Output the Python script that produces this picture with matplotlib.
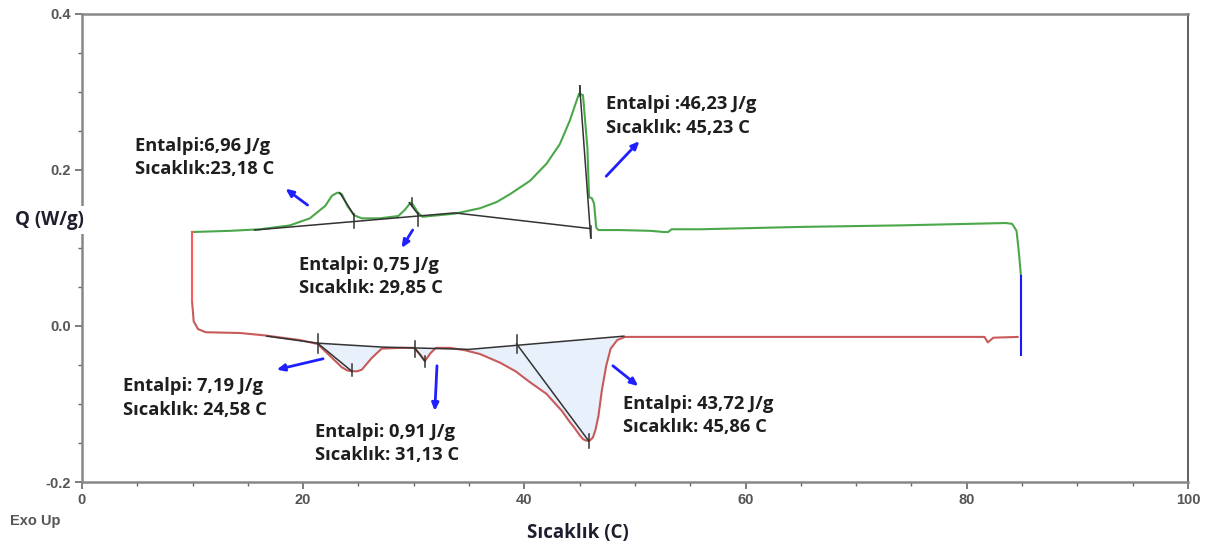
import numpy as np
import matplotlib
matplotlib.use("Agg")
import matplotlib.pyplot as plt

# heating curve (green, exo up)
heat_x = [9.95, 13.4, 16.1, 18.8, 20.6, 22.0, 22.6, 23.1, 23.5, 24.0, 24.6, 25.3, 26.9,
          28.6, 29.2, 29.7, 29.9, 30.4, 30.8, 31.5, 33.7, 36.0, 37.5, 38.7, 40.5, 42.0,
          43.2, 44.1, 44.8, 44.95, 45.3, 45.7, 45.85, 46.1, 46.3, 46.5, 46.7,
          48.6, 51.4, 52.6, 53.0, 53.3, 55.9, 64.9, 74.0, 83.5, 84.1, 84.5, 84.7, 84.9]
heat_y = [0.1205, 0.122, 0.124, 0.129, 0.138, 0.154, 0.167, 0.171, 0.169, 0.154, 0.142, 0.138, 0.138,
          0.141, 0.149, 0.158, 0.156, 0.145, 0.140, 0.141, 0.144, 0.151, 0.159, 0.169, 0.186, 0.208,
          0.233, 0.263, 0.292, 0.298, 0.296, 0.228, 0.165, 0.164, 0.157, 0.126, 0.123,
          0.123, 0.122, 0.1205, 0.1205, 0.124, 0.124, 0.127, 0.129, 0.132, 0.131, 0.122, 0.096, 0.064]

# cooling curve (red)
cool_x = [9.95, 9.95, 10.1, 10.5, 11.2, 14.3, 16.5, 19.7, 21.3, 22.4, 23.5, 24.0, 24.4, 24.9, 25.3,
          26.2, 27.1, 28.8, 30.0, 30.6, 31.0, 31.5, 32.0, 33.3, 34.6, 36.0, 37.8, 39.2, 40.5,
          42.0, 43.4, 44.0, 44.6, 45.0, 45.3, 45.6, 45.9, 46.2, 46.45, 46.7, 47.0, 47.4, 47.8,
          48.4, 49.1, 55.9, 69.4, 81.6, 81.9, 82.4, 84.6]
cool_y = [0.1205, 0.032, 0.006, -0.004, -0.008, -0.009, -0.012, -0.018, -0.023, -0.038, -0.053, -0.057, -0.058, -0.058, -0.056,
          -0.041, -0.029, -0.028, -0.028, -0.037, -0.045, -0.035, -0.028, -0.028, -0.031, -0.036, -0.047, -0.058, -0.072,
          -0.087, -0.109, -0.121, -0.132, -0.140, -0.145, -0.147, -0.147, -0.143, -0.132, -0.115, -0.083, -0.051, -0.029,
          -0.018, -0.014, -0.014, -0.014, -0.014, -0.021, -0.015, -0.014]

# integration baselines
heat_base_x = [15.6, 33.7, 45.9]
heat_base_y = [0.123, 0.145, 0.125]
cool_base_x = [16.7, 21.3, 27.1, 35.0, 49.0]
cool_base_y = [-0.013, -0.022, -0.027, -0.030, -0.013]

# tangent segments ((x0, y0), (x1, y1))
tangents = [((23.3, 0.171), (24.6, 0.142)), ((29.6, 0.158), (30.4, 0.143)),
            ((45.0, 0.308), (46.0, 0.113)),
            ((21.3, -0.022), (24.4, -0.058)), ((30.1, -0.028), (31.0, -0.045)),
            ((39.3, -0.023), (45.8, -0.147))]
# small vertical limit ticks (x, ymin, ymax)
limit_ticks = [(24.6, 0.125, 0.144), (29.8, 0.154, 0.164), (30.4, 0.128, 0.145),
               (45.0, 0.295, 0.308), (46.0, 0.113, 0.128),
               (21.3, -0.010, -0.034), (24.4, -0.049, -0.064), (30.1, -0.019, -0.040),
               (31.0, -0.038, -0.052), (39.3, -0.012, -0.035), (45.8, -0.138, -0.157)]
# shaded peak ranges on cooling curve
shade_ranges = [(21.3, 27.1), (30.1, 32.0), (35.0, 49.0)]

# annotations: (x left, y line1, y line2, line1, line2)
notes = [
    (4.8, 0.231, 0.201, "Entalpi:6,96 J/g", "Sıcaklık:23,18 C"),
    (19.6, 0.078, 0.049, "Entalpi: 0,75 J/g", "Sıcaklık: 29,85 C"),
    (47.4, 0.285, 0.254, "Entalpi :46,23 J/g", "Sıcaklık: 45,23 C"),
    (3.7, -0.077, -0.108, "Entalpi: 7,19 J/g", "Sıcaklık: 24,58 C"),
    (21.1, -0.136, -0.165, "Entalpi: 0,91 J/g", "Sıcaklık: 31,13 C"),
    (48.9, -0.100, -0.129, "Entalpi: 43,72 J/g", "Sıcaklık: 45,86 C"),
]
# arrows: (tail, head)
arrows = [((20.4, 0.155), (18.4, 0.176)), ((29.9, 0.123), (28.9, 0.100)),
          ((47.4, 0.192), (50.4, 0.237)), ((21.8, -0.042), (17.6, -0.056)),
          ((32.1, -0.051), (31.9, -0.109)), ((48.0, -0.051), (50.3, -0.077))]

fig = plt.figure(figsize=(12.09, 5.46), dpi=100)
ax = fig.add_axes([0.0678, 0.1172, 0.9148, 0.8572])

# shading
cx = np.array(cool_x)
cy = np.array(cool_y)
for a, b in shade_ranges:
    m = (cx >= a) & (cx <= b)
    xs = np.concatenate([[a], cx[m], [b]])
    ys = np.interp(xs, cx[2:], cy[2:])
    bs = np.interp(xs, cool_base_x, cool_base_y)
    ax.fill_between(xs, ys, bs, color="#e8f1fb", lw=0, zorder=1)

ax.plot(heat_x, heat_y, color="#4aa84a", lw=1.5, zorder=3)
ax.plot(cool_x[1:], cool_y[1:], color="#c85a5a", lw=1.5, zorder=3)
ax.plot(cool_x[:2], cool_y[:2], color="#ff5a5a", lw=1.5, zorder=3)
ax.plot([heat_x[-1], heat_x[-1]], [heat_y[-1], -0.037], color="#1a1aff", lw=1.5, zorder=3)

ax.plot(heat_base_x, heat_base_y, color="#333333", lw=1.1, zorder=4)
ax.plot(cool_base_x, cool_base_y, color="#333333", lw=1.1, zorder=4)
for (x0, y0), (x1, y1) in tangents:
    ax.plot([x0, x1], [y0, y1], color="#333333", lw=1.1, zorder=4)
for x, y0, y1 in limit_ticks:
    ax.plot([x, x], [y0, y1], color="#333333", lw=1.1, zorder=4)

for (tx, ty), (hx, hy) in arrows:
    ax.annotate("", xy=(hx, hy), xytext=(tx, ty),
                arrowprops=dict(arrowstyle="-|>,head_length=0.45,head_width=0.2",
                                color="#1f1fff", lw=2.0, shrinkA=0, shrinkB=0), zorder=5)

for x, y1, y2, t1, t2 in notes:
    ax.text(x, y1, t1, fontsize=13.2, family="Open Sans", weight="bold",
            color="#1e1e1e", va="center", ha="left", zorder=6)
    ax.text(x, y2, t2, fontsize=13.2, family="Open Sans", weight="bold",
            color="#1e1e1e", va="center", ha="left", zorder=6)

ax.set_xlim(0, 100)
ax.set_ylim(-0.2, 0.4)
ax.set_xticks([0, 20, 40, 60, 80, 100])
ax.set_yticks([-0.2, 0.0, 0.2, 0.4])
ax.set_yticklabels(["-0.2", "0.0", "0.2", "0.4"])
ax.set_xticks(np.arange(0, 101, 5), minor=True)
ax.set_yticks(np.arange(-0.2, 0.41, 0.05), minor=True)
ax.tick_params(which="major", length=5, width=1.2, color="#666666",
               labelsize=10.5, labelcolor="#555555", pad=3)
ax.tick_params(which="minor", length=3, width=1.0, color="#666666")
for lab in ax.get_xticklabels() + ax.get_yticklabels():
    lab.set_fontweight("bold")
    lab.set_family("Liberation Sans")
for side in ["left", "bottom", "top"]:
    ax.spines[side].set_color("#888888")
    ax.spines[side].set_linewidth(1.8)
ax.spines["right"].set_color("#444444")
ax.spines["right"].set_linewidth(1.2)

fig.text(578 / 1209, 1 - 533 / 546, "Sıcaklık (C)", fontsize=13.5, family="Open Sans",
         weight="bold", color="#1e1e2e", va="center", ha="center")
fig.text(0.0125, 0.597, "Q (W/g)", fontsize=13.5, family="Open Sans", weight="bold",
         color="#1e1e2e", va="center", ha="left",
         bbox=dict(facecolor="white", edgecolor="none", pad=3), zorder=10)
fig.text(0.008, 0.046, "Exo Up", fontsize=10.5, weight="bold", family="Liberation Sans",
         color="#555555", va="center", ha="left")

fig.savefig("out.png", dpi=100)
